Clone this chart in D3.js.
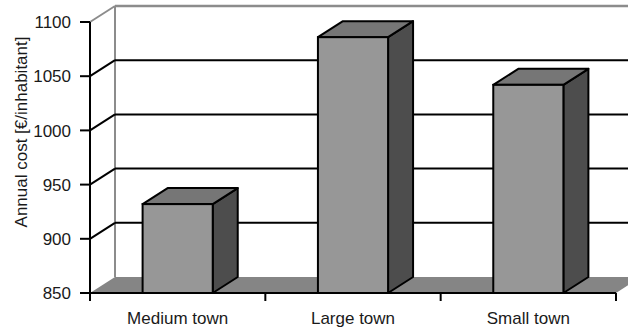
<!DOCTYPE html>
<html>
<head>
<meta charset="utf-8">
<script src="https://cdn.jsdelivr.net/npm/d3@7/dist/d3.min.js"></script>
<style>
  html, body { margin: 0; padding: 0; background: #fff; }
  svg { display: block; }
  text { font-family: "Liberation Sans", Arial, sans-serif; fill: #1a1a1a; }
</style>
</head>
<body>
<svg id="chart" width="628" height="328"></svg>
<script>
// Annual cost per inhabitant by town size
const categories = ["Medium town", "Large town", "Small town"];
const costs = [932, 1086, 1042];
const yTicks = [850, 900, 950, 1000, 1050, 1100];

const W = 628, H = 328;
const depthX = 25, depthY = -16;   // 3D depth offset of the back wall

const svg = d3.select("#chart");

const y = d3.scaleLinear().domain([850, 1100]).range([293, 22]);
const x = d3.scaleBand().domain(categories).range([90, 616]).paddingInner(0).paddingOuter(0);
const barW = x.bandwidth() * 0.4;

const x0 = x.range()[0], x1 = x.range()[1];
const yBase = y(850);

// Back wall: left and top edges
svg.append("line")
  .attr("x1", x0 + depthX).attr("y1", y(1100) + depthY)
  .attr("x2", x0 + depthX).attr("y2", yBase + depthY)
  .attr("stroke", "#8c8c8c").attr("stroke-width", 2);
svg.append("line")
  .attr("x1", x0 + depthX).attr("y1", y(1100) + depthY)
  .attr("x2", W + 20).attr("y2", y(1100) + depthY)
  .attr("stroke", "#8c8c8c").attr("stroke-width", 2.5);
svg.append("line")
  .attr("x1", x0).attr("y1", y(1100))
  .attr("x2", x0 + depthX).attr("y2", y(1100) + depthY)
  .attr("stroke", "#8c8c8c").attr("stroke-width", 2);

// Gridlines on the back wall plus their diagonal links to the front axis
const inner = yTicks.filter(d => d > 850 && d < 1100);
svg.append("g").selectAll("line").data(inner).join("line")
  .attr("x1", x0 + depthX).attr("x2", W + 20)
  .attr("y1", d => y(d) + depthY).attr("y2", d => y(d) + depthY)
  .attr("stroke", "#000").attr("stroke-width", 2);
svg.append("g").selectAll("line").data(inner).join("line")
  .attr("x1", x0).attr("x2", x0 + depthX)
  .attr("y1", d => y(d)).attr("y2", d => y(d) + depthY)
  .attr("stroke", "#000").attr("stroke-width", 2);

// Floor
svg.append("path")
  .attr("d", d3.line()([[x0, yBase], [x0 + depthX, yBase + depthY], [x1 + depthX, yBase + depthY], [x1, yBase]]) + "Z")
  .attr("fill", "#858585").attr("stroke", "none");

// Bars as 3D boxes
const bars = svg.append("g").selectAll("g").data(categories).join("g");
bars.each(function(c, i) {
  const g = d3.select(this);
  const bx0 = x(c) + (x.bandwidth() - barW) / 2;
  const bx1 = bx0 + barW;
  const yt = y(costs[i]);
  const poly = pts => d3.line()(pts) + "Z";
  // side face
  g.append("path")
    .attr("d", poly([[bx1, yt], [bx1 + depthX, yt + depthY], [bx1 + depthX, yBase + depthY], [bx1, yBase]]))
    .attr("fill", "#4d4d4d").attr("stroke", "#000").attr("stroke-width", 2).attr("stroke-linejoin", "round");
  // top face
  g.append("path")
    .attr("d", poly([[bx0, yt], [bx0 + depthX, yt + depthY], [bx1 + depthX, yt + depthY], [bx1, yt]]))
    .attr("fill", "#767676").attr("stroke", "#000").attr("stroke-width", 2).attr("stroke-linejoin", "round");
  // front face
  g.append("rect")
    .attr("x", bx0).attr("y", yt).attr("width", barW).attr("height", yBase - yt)
    .attr("fill", "#979797").attr("stroke", "#000").attr("stroke-width", 2);
});

// Front axes
svg.append("line")
  .attr("x1", x0).attr("y1", y(1100)).attr("x2", x0).attr("y2", yBase)
  .attr("stroke", "#000").attr("stroke-width", 2);
svg.append("line")
  .attr("x1", x0).attr("y1", yBase).attr("x2", x1).attr("y2", yBase)
  .attr("stroke", "#000").attr("stroke-width", 2);

// Y ticks and labels
svg.append("g").selectAll("line").data(yTicks).join("line")
  .attr("x1", x0 - 10).attr("x2", x0)
  .attr("y1", d => y(d)).attr("y2", d => y(d))
  .attr("stroke", "#000").attr("stroke-width", 2);
svg.append("g").selectAll("text").data(yTicks).join("text")
  .attr("x", x0 - 19).attr("y", d => y(d)).attr("dy", "0.36em")
  .attr("text-anchor", "end").attr("font-size", 17)
  .text(d => d);

// X ticks at category boundaries and labels
const bounds = categories.map(c => x(c)).concat([x1]);
svg.append("g").selectAll("line").data(bounds).join("line")
  .attr("x1", d => d).attr("x2", d => d)
  .attr("y1", yBase).attr("y2", yBase + 8)
  .attr("stroke", "#000").attr("stroke-width", 2);
svg.append("g").selectAll("text").data(categories).join("text")
  .attr("x", c => x(c) + x.bandwidth() / 2).attr("y", 324)
  .attr("text-anchor", "middle").attr("font-size", 17)
  .text(c => c);

// Y axis title
svg.append("text")
  .attr("transform", `translate(27, 132) rotate(-90)`)
  .attr("text-anchor", "middle").attr("font-size", 17)
  .text("Annual cost [€/inhabitant]");
</script>
</body>
</html>
